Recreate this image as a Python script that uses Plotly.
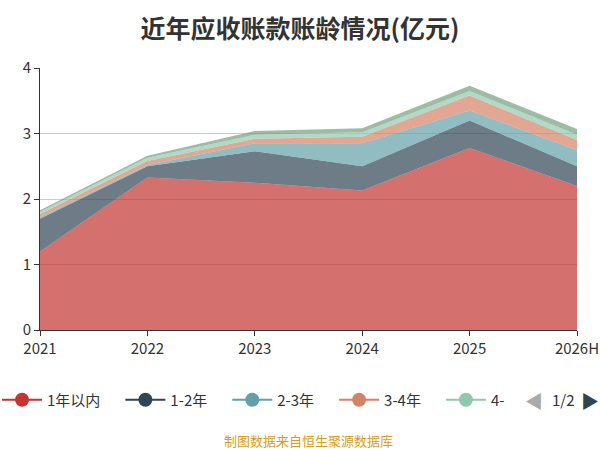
import plotly.graph_objects as go

years = ["2021", "2022", "2023", "2024", "2025", "2026H"]
names = ["1年以内", "1-2年", "2-3年", "3-4年", "4-5年", "5年以上"]
colors = ["#c23531", "#2f4554", "#61a0a8", "#d48265", "#91c7ae", "#749f83"]
s1 = [1.20, 2.33, 2.25, 2.13, 2.78, 2.20]
s2 = [0.50, 0.17, 0.48, 0.37, 0.42, 0.30]
s3 = [0.02, 0.02, 0.12, 0.35, 0.15, 0.25]
s4 = [0.05, 0.06, 0.07, 0.10, 0.23, 0.15]
s5 = [0.03, 0.05, 0.06, 0.07, 0.07, 0.08]
s6 = [0.03, 0.03, 0.06, 0.06, 0.08, 0.09]
series = [s1, s2, s3, s4, s5, s6]
legend_labels = ["1年以内", "1-2年", "2-3年", "3-4年", "4-"]

def rgba(h, a):
    h = h.lstrip("#")
    return "rgba(%d,%d,%d,%.2f)" % (int(h[0:2], 16), int(h[2:4], 16), int(h[4:6], 16), a)

fig = go.Figure()
for n, c, s in zip(names, colors, series):
    fig.add_trace(go.Scatter(x=years, y=s, name=n, stackgroup="a", mode="lines",
                             line=dict(width=0, color=c), fillcolor=rgba(c, 0.7),
                             showlegend=False))
for i, (lab, c) in enumerate(zip(legend_labels, colors)):
    pad = "" if i == len(legend_labels) - 1 else "\u2003"
    fig.add_trace(go.Scatter(x=[None], y=[None], name=lab + pad, mode="lines+markers",
                             line=dict(color=c, width=2),
                             marker=dict(size=14, color=c)))

fig.update_layout(
    width=600, height=450, paper_bgcolor="white", plot_bgcolor="white",
    margin=dict(l=40, r=23, t=68, b=120, autoexpand=False),
    title=dict(text="<b>近年应收账款账龄情况(亿元)</b>", x=0.5, y=0.955, xanchor="center",
               font=dict(size=25, color="#333", family="Noto Sans CJK SC")),
    font=dict(family="Noto Sans CJK SC", color="#333", size=15),
    xaxis=dict(range=[0, 5], showline=True, linecolor="#333", ticks="outside",
               ticklen=5, tickcolor="#333", showgrid=False, tickfont=dict(size=15)),
    yaxis=dict(range=[0, 4], dtick=1, showline=True, linecolor="#333", ticks="outside",
               ticklen=5, tickcolor="#333", gridcolor="#ccc", tickfont=dict(size=15), zeroline=False),
    legend=dict(orientation="h", x=-0.08, y=-0.267, xanchor="left", yanchor="middle",
                font=dict(size=15), traceorder="normal", itemwidth=40),
    annotations=[
        dict(text="◀", x=0.94, y=-0.267, xref="paper", yref="paper", showarrow=False,
             xanchor="right", yanchor="middle", font=dict(size=18, color="#aaa")),
        dict(text="1/2", x=0.975, y=-0.267, xref="paper", yref="paper", showarrow=False,
             xanchor="center", yanchor="middle", font=dict(size=15, color="#333")),
        dict(text="▶", x=1.045, y=-0.267, xref="paper", yref="paper", showarrow=False,
             xanchor="right", yanchor="middle", font=dict(size=18, color="#2f4554")),
        dict(text="制图数据来自恒生聚源数据库", x=0.5, y=-0.42, xref="paper", yref="paper",
             showarrow=False, xanchor="center", yanchor="middle",
             font=dict(size=13, color="#d4a017")),
    ],
)
fig.write_html("out.html", config={"displayModeBar": False},
               post_script="document.body.style.margin='0';")
